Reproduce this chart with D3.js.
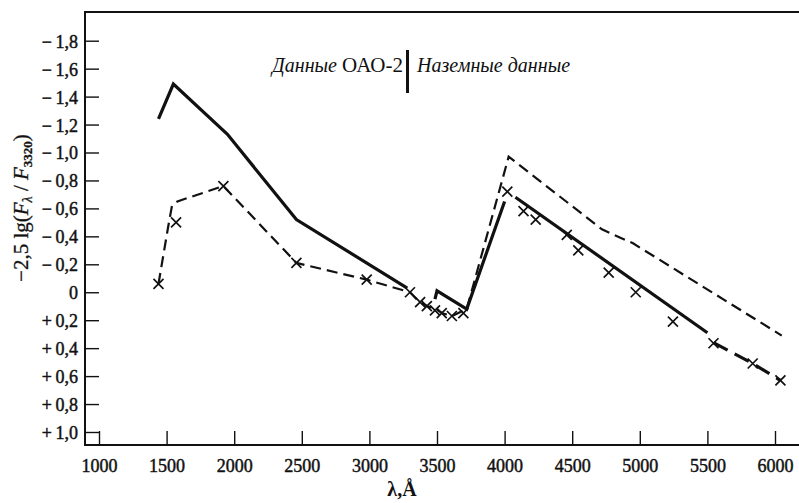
<!DOCTYPE html>
<html>
<head>
<meta charset="utf-8">
<script src="https://cdn.jsdelivr.net/npm/d3@7"></script>
<style>
  body { margin: 0; background: #fff; }
  svg { display: block; }
  text { font-family: "Liberation Serif", "DejaVu Serif", serif; fill: #111; }
</style>
</head>
<body>
<svg id="chart" width="799" height="503"></svg>
<script>
// Wavelength ticks (Å) and colour-index ticks
const xTicks = [1000, 1500, 2000, 2500, 3000, 3500, 4000, 4500, 5000, 5500, 6000];
const yTicks = [-1.8, -1.6, -1.4, -1.2, -1.0, -0.8, -0.6, -0.4, -0.2, 0, 0.2, 0.4, 0.6, 0.8, 1.0];

// Solid curve, ultraviolet part (OAO-2)
const solidUV = [[1440, -1.24], [1550, -1.49], [1950, -1.13], [2460, -0.52], [3280, -0.03]];
// Solid curve, Balmer-jump part
const solidBalmer = [[3485, 0.05], [3500, -0.01], [3720, 0.12], [4000, -0.65]];
// Solid curve, visual part (ground-based)
const solidVis = [[4080, -0.68], [5500, 0.29]];
// Thick long-dashed continuation at the red end
const thickTail = [[5545, 0.36], [5835, 0.51], [6040, 0.63]];
// Thin dashed comparison curve
const dashed = [[1440, -0.06], [1510, -0.46], [1540, -0.62], [1580, -0.65], [1920, -0.76],
  [2460, -0.21], [2980, -0.09], [3300, 0.0], [3370, 0.07], [3430, 0.10], [3490, 0.12],
  [3540, 0.15], [3610, 0.17], [3720, 0.12], [4030, -0.97], [4720, -0.45], [4950, -0.35],
  [6050, 0.31]];
// Observed points (crosses)
const crosses = [[1440, -0.06], [1570, -0.50], [1920, -0.76], [2460, -0.21], [2980, -0.09],
  [3300, 0.0], [3375, 0.07], [3425, 0.10], [3485, 0.13], [3535, 0.15], [3610, 0.17],
  [3695, 0.15], [4020, -0.72], [4140, -0.58], [4230, -0.52], [4460, -0.41], [4545, -0.30],
  [4770, -0.14], [4970, 0.0], [5245, 0.21], [5545, 0.365], [5835, 0.51], [6040, 0.63]];

const svg = d3.select("#chart");
const x = d3.scaleLinear().domain([1000, 6000]).range([99, 775]);
const y = d3.scaleLinear().domain([-1.8, 1.0]).range([40.7, 432]);

const frameL = 85, frameT = 12, frameB = 445, frameR = 799;
const ink = "#111";

// frame: left, top and bottom lines
svg.append("path")
  .attr("d", `M${frameR},${frameT}H${frameL}V${frameB}H${frameR}`)
  .attr("fill", "none").attr("stroke", ink).attr("stroke-width", 2);

const fmtY = v => {
  if (Math.abs(v) < 1e-9) return "0";
  const s = Math.abs(v).toFixed(1).replace(".", ",");
  return (v < 0 ? "\u2212" : "+") + "\u2009" + s;
};

const styleLabels = sel => sel
  .attr("font-size", 18).attr("fill", ink)
  .attr("stroke", ink).attr("stroke-width", 0.45)
  .attr("font-family", "Liberation Serif, serif");

// x axis, ticks pointing inward
const gx = svg.append("g").attr("transform", `translate(0,${frameB})`)
  .call(d3.axisBottom(x).tickValues(xTicks).tickSizeInner(-14).tickSizeOuter(0)
    .tickFormat(d3.format("d")));
gx.select(".domain").remove();
gx.selectAll(".tick line").attr("stroke", ink).attr("stroke-width", 1.4);
gx.selectAll(".tick text").attr("y", 27).attr("dy", 0).call(styleLabels);

// y axis, ticks pointing inward
const gy = svg.append("g").attr("transform", `translate(${frameL},0)`)
  .call(d3.axisLeft(y).tickValues(yTicks).tickSizeInner(-14).tickSizeOuter(0)
    .tickPadding(7).tickFormat(fmtY));
gy.select(".domain").remove();
gy.selectAll(".tick line").attr("stroke", ink).attr("stroke-width", 1.4);
gy.selectAll(".tick text").attr("dy", "0.36em").call(styleLabels);

// axis titles
const yt = svg.append("text")
  .attr("transform", "translate(28,208) rotate(-90)")
  .attr("text-anchor", "middle").attr("font-size", 21)
  .attr("stroke", ink).attr("stroke-width", 0.3);
yt.append("tspan").text("\u22122,5 lg(");
yt.append("tspan").attr("font-style", "italic").text("F");
yt.append("tspan").attr("font-size", 14).attr("dy", 4).attr("font-style", "italic").text("\u03bb");
yt.append("tspan").attr("dy", -4).text(" / ");
yt.append("tspan").attr("font-style", "italic").text("F");
yt.append("tspan").attr("font-size", 13).attr("dy", 4).attr("font-weight", "bold").text("3320");
yt.append("tspan").attr("dy", -4).text(")");

svg.append("text").attr("x", 402).attr("y", 496)
  .attr("text-anchor", "middle").attr("font-size", 20).attr("font-weight", "bold")
  .text("\u03bb,\u00c5");

// caption with separator bar
svg.append("text").attr("x", 272).attr("y", 72).attr("font-size", 20)
  .attr("font-style", "italic").text("Данные");
svg.append("text").attr("x", 403).attr("y", 72).attr("font-size", 21)
  .attr("text-anchor", "end").text("ОАО-2");
svg.append("line").attr("x1", 407.5).attr("x2", 407.5).attr("y1", 50).attr("y2", 93)
  .attr("stroke", ink).attr("stroke-width", 3);
svg.append("text").attr("x", 417).attr("y", 72).attr("font-size", 20)
  .attr("font-style", "italic").text("Наземные данные");

const line = d3.line().x(d => x(d[0])).y(d => y(d[1]));

// thin dashed curve
svg.append("path").datum(dashed).attr("d", line)
  .attr("fill", "none").attr("stroke", ink).attr("stroke-width", 2.2)
  .attr("stroke-dasharray", "11,6");

// solid curves
[solidUV, solidBalmer, solidVis].forEach(seg => {
  svg.append("path").datum(seg).attr("d", line)
    .attr("fill", "none").attr("stroke", ink).attr("stroke-width", 3.2);
});

// thick dashed tail
svg.append("path").datum(thickTail).attr("d", line)
  .attr("fill", "none").attr("stroke", ink).attr("stroke-width", 3.2)
  .attr("stroke-dasharray", "16,8");

// crosses
const cs = 5;
svg.append("g").selectAll("path").data(crosses).join("path")
  .attr("d", d => {
    const px = x(d[0]), py = y(d[1]);
    return `M${px - cs},${py - cs}L${px + cs},${py + cs}M${px - cs},${py + cs}L${px + cs},${py - cs}`;
  })
  .attr("fill", "none").attr("stroke", ink).attr("stroke-width", 1.7);
</script>
</body>
</html>
